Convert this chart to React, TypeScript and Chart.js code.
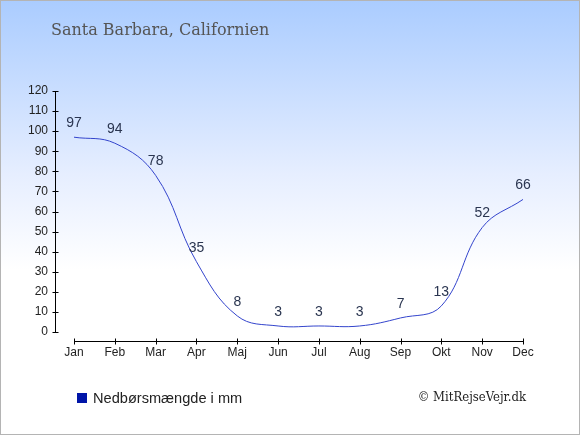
import React, { useEffect, useRef } from "react";
import { Chart, registerables } from "chart.js";

Chart.register(...registerables);

const months = ["Jan", "Feb", "Mar", "Apr", "Maj", "Jun", "Jul", "Aug", "Sep", "Okt", "Nov", "Dec"];
const rainfall = [97, 94, 78, 35, 8, 3, 3, 3, 7, 13, 52, 66];
const yTicks = [0, 10, 20, 30, 40, 50, 60, 70, 80, 90, 100, 110, 120];
const title = "Santa Barbara, Californien";
const legendLabel = "Nedbørsmængde i mm";
const credit = "© MitRejseVejr.dk";

const axisPlugin = {
  id: "customAxes",
  afterDatasetsDraw(chart: any) {
    const ctx = chart.ctx;
    const x = chart.scales.x;
    const y = chart.scales.y;
    ctx.save();
    ctx.strokeStyle = "#000";
    ctx.lineWidth = 1;
    // y axis
    const ax = Math.round(y.right) + 0.5;
    ctx.beginPath();
    ctx.moveTo(ax, y.getPixelForValue(120));
    ctx.lineTo(ax, y.getPixelForValue(0));
    ctx.stroke();
    yTicks.forEach((v) => {
      const py = Math.round(y.getPixelForValue(v)) + 0.5;
      ctx.beginPath();
      ctx.moveTo(ax - 3, py);
      ctx.lineTo(ax + 3, py);
      ctx.stroke();
    });
    // x axis
    const bx = Math.round(chart.chartArea.bottom + 9) + 0.5;
    ctx.beginPath();
    ctx.moveTo(x.getPixelForValue(0), bx);
    ctx.lineTo(x.getPixelForValue(months.length - 1), bx);
    ctx.stroke();
    months.forEach((_, i) => {
      const px = Math.round(x.getPixelForValue(i)) + 0.5;
      ctx.beginPath();
      ctx.moveTo(px, bx - 3);
      ctx.lineTo(px, bx + 3);
      ctx.stroke();
    });
    // data labels
    ctx.fillStyle = "#2a3550";
    ctx.font = "14px 'Liberation Sans', Arial, sans-serif";
    ctx.textAlign = "center";
    ctx.textBaseline = "middle";
    rainfall.forEach((v, i) => {
      ctx.fillText(String(v), x.getPixelForValue(i), y.getPixelForValue(v) - 14);
    });
    ctx.restore();
  },
};

export default function App() {
  const ref = useRef<HTMLCanvasElement>(null);
  useEffect(() => {
    document.body.style.margin = "0";
    const chart = new Chart(ref.current!, {
      type: "line",
      data: {
        labels: months,
        datasets: [
          {
            label: legendLabel,
            data: rainfall.map((v, i) => ({ x: i, y: v })),
            borderColor: "#3344cc",
            borderWidth: 1,
            pointRadius: 0,
            tension: 0.4,
            fill: false,
          },
        ],
      },
      options: {
        animation: false,
        responsive: false,
        maintainAspectRatio: false,
        layout: { padding: { left: 15, right: 57, top: 91, bottom: 73 } },
        plugins: { legend: { display: false }, tooltip: { enabled: false } },
        scales: {
          x: {
            type: "linear",
            min: -0.4655,
            max: 11,
            grid: { display: false, drawTicks: false },
            border: { display: false },
            afterFit: (s: any) => {
              s.height = 30;
            },
            afterBuildTicks: (s: any) => {
              s.ticks = months.map((_, i) => ({ value: i }));
            },
            ticks: {
              padding: 13,
              color: "#222",
              font: { family: "'Liberation Sans', Arial, sans-serif", size: 12 },
              callback: (v: any) => months[v as number] ?? "",
              maxRotation: 0,
              autoSkip: false,
            },
          },
          y: {
            min: 0,
            max: 120,
            grid: { display: false, drawTicks: false },
            border: { display: false },
            afterFit: (s: any) => {
              s.width = 40;
            },
            ticks: {
              stepSize: 10,
              padding: 7,
              color: "#222",
              font: { family: "'Liberation Sans', Arial, sans-serif", size: 12 },
            },
          },
        },
      },
      plugins: [axisPlugin],
    });
    return () => chart.destroy();
  }, []);

  return (
    <div
      style={{
        position: "relative",
        width: 580,
        height: 435,
        background: "linear-gradient(to bottom, #aaccff 0%, #e6eeff 40%, #ffffff 62%, #ffffff 100%)",
        overflow: "hidden",
      }}
    >
      <canvas ref={ref} width={580} height={435} style={{ position: "absolute", left: 0, top: 0 }} />
      <div
        style={{
          position: "absolute",
          left: 51,
          top: 20,
          fontFamily: "'DejaVu Serif', serif",
          fontSize: 16,
          color: "#555",
          whiteSpace: "nowrap",
        }}
      >
        {title}
      </div>
      <div
        style={{
          position: "absolute",
          left: 77,
          top: 390,
          display: "flex",
          alignItems: "center",
          fontFamily: "'Liberation Sans', Arial, sans-serif",
          fontSize: 14.6,
          color: "#222",
          whiteSpace: "nowrap",
        }}
      >
        <span style={{ display: "inline-block", width: 10, height: 10, background: "#0015a8", marginRight: 6 }} />
        {legendLabel}
      </div>
      <div
        style={{
          position: "absolute",
          right: 54,
          top: 389,
          fontFamily: "'DejaVu Serif Condensed', 'DejaVu Serif', serif",
          fontSize: 13,
          color: "#222",
          whiteSpace: "nowrap",
        }}
      >
        {credit}
      </div>
      <div
        style={{
          position: "absolute",
          left: 0,
          top: 0,
          width: 580,
          height: 435,
          boxSizing: "border-box",
          border: "1px solid #b4b4b4",
          pointerEvents: "none",
        }}
      />
    </div>
  );
}
